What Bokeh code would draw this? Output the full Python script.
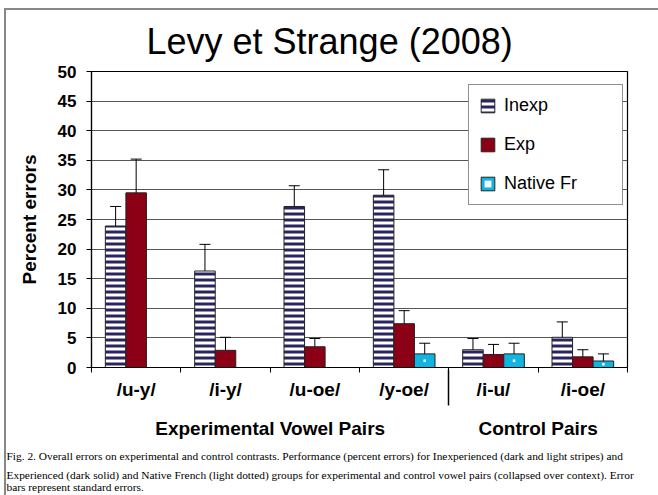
from bokeh.plotting import figure
from bokeh.models import (Range1d, LinearAxis, FixedTicker, Title,
                          ColumnDataSource, Whisker, TeeHead, Legend, LegendItem)
from bokeh.transform import dodge
from bokeh.embed import file_html
from bokeh.resources import INLINE

# ---------------- data ----------------
cats = ["/u-y/", "/i-y/", "/u-oe/", "/y-oe/", "/i-u/", "/i-oe/"]
inexp = [23.9, 16.3, 27.2, 29.1, 3.0, 5.1]
inexp_se = [3.3, 4.5, 3.5, 4.3, 1.9, 2.6]
exp = [29.5, 2.9, 3.5, 7.4, 2.2, 1.8]
exp_se = [5.7, 2.2, 1.4, 2.2, 1.7, 1.2]
native = [None, None, None, 2.3, 2.3, 1.1]
native_se = [None, None, None, 1.8, 1.8, 1.2]
y_ticks = [0, 5, 10, 15, 20, 25, 30, 35, 40, 45, 50]
group_names = ["Experimental Vowel Pairs", "Control Pairs"]
group_sizes = [4, 2]
title_text = "Levy et Strange (2008)"
caption_lines = [
    "Fig. 2.  Overall errors on experimental and control contrasts. Performance (percent errors) for Inexperienced (dark and light stripes) and",
    "Experienced (dark solid) and Native French (light dotted) groups for experimental and control vowel pairs (collapsed over context). Error",
    "bars represent standard errors.",
]

SANS = "Liberation Sans"
SERIF = "Liberation Serif"

n = len(cats)
centers = [i + 0.5 for i in range(n)]
bounds = list(range(n + 1))
group_centers, divider = [], []
start = 0
for gs in group_sizes:
    group_centers.append(start + gs / 2)
    start += gs
    divider.append(start)
divider = divider[:-1]

p = figure(width=658, height=495, output_backend="svg", toolbar_location=None,
           x_range=Range1d(0, n), y_range=Range1d(0, 50), x_axis_location=None,
           min_border_left=91, min_border_right=31, min_border_top=71, min_border_bottom=128)
p.border_fill_alpha = 0
p.background_fill_color = "white"
p.styles = {"background": "linear-gradient(#888888,#888888) 4px 8px / 100% 2px no-repeat, "
                          "linear-gradient(#888888,#888888) 4px 8px / 2px 100% no-repeat"}
p.outline_line_color = "black"
p.outline_line_width = 1.2
p.xgrid.grid_line_color = None
p.ygrid.ticker = FixedTicker(ticks=y_ticks)
p.ygrid.grid_line_color = "#555555"
p.ygrid.grid_line_width = 1

p.title = Title(text=title_text, align="left", offset=55, standoff=20,
                text_font=SANS, text_font_size="36px", text_font_style="normal",
                text_color="black")

# y axis
ya = p.yaxis[0]
ya.ticker = FixedTicker(ticks=y_ticks)
ya.axis_label = "Percent errors"
ya.axis_label_text_font = SANS
ya.axis_label_text_font_style = "bold"
ya.axis_label_text_font_size = "19px"
ya.axis_label_text_color = "black"
ya.axis_label_standoff = 15
ya.major_label_text_font = SANS
ya.major_label_text_font_style = "bold"
ya.major_label_text_font_size = "17px"
ya.major_label_text_color = "black"
ya.major_label_standoff = 10
ya.major_tick_out = 5
ya.major_tick_in = 0
ya.minor_tick_line_color = None
ya.axis_line_color = "black"
ya.axis_line_width = 1.2

# x axis: category labels at centers, tick marks at boundaries
cat_axis = LinearAxis(ticker=FixedTicker(ticks=centers, minor_ticks=bounds),
                      major_label_overrides={c: lab for c, lab in zip(centers, cats)},
                      axis_line_color="black", axis_line_width=1.2,
                      major_tick_line_color=None, major_tick_out=5, major_tick_in=0,
                      minor_tick_line_color="black", minor_tick_out=5, minor_tick_in=0,
                      major_label_text_font=SANS, major_label_text_font_style="bold",
                      major_label_text_font_size="19px", major_label_text_color="black",
                      major_label_standoff=6)
p.add_layout(cat_axis, "below")

# group labels + divider tick
grp_axis = LinearAxis(ticker=FixedTicker(ticks=group_centers, minor_ticks=divider),
                      major_label_overrides={c: lab for c, lab in zip(group_centers, group_names)},
                      axis_line_color=None, major_tick_line_color=None,
                      major_tick_out=0, major_tick_in=0,
                      minor_tick_line_color="black", minor_tick_line_width=1.5,
                      minor_tick_in=33, minor_tick_out=3,
                      major_label_text_font=SANS, major_label_text_font_style="bold",
                      major_label_text_font_size="19px", major_label_text_color="black",
                      major_label_standoff=12)
p.add_layout(grp_axis, "below")

for i, line in enumerate(caption_lines):
    p.add_layout(Title(text=line, align="left", offset=-85, standoff=12 if i == 0 else -2,
                       text_font=SERIF, text_font_size="11.4px", text_font_style="normal",
                       text_color="black"), "below")

W = 0.23
def series(vals, se):
    xs, tops, ups, mids = [], [], [], []
    for c, v, s in zip(centers, vals, se):
        if v is None:
            continue
        xs.append(c); tops.append(v); ups.append(v + s); mids.append(v / 2)
    return ColumnDataSource(dict(x=xs, top=tops, upper=ups, mid=mids))

s_in = series(inexp, inexp_se)
s_ex = series(exp, exp_se)
s_na = series(native, native_se)

r_in = p.vbar(x=dodge("x", -W), top="top", width=W, source=s_in,
              fill_color="white", line_color="#222222", line_width=1,
              hatch_pattern="horizontal_line", hatch_color="#29235f", hatch_scale=6, hatch_weight=3)
r_ex = p.vbar(x=dodge("x", 0), top="top", width=W, source=s_ex,
              fill_color="#8c0015", line_color="#222222", line_width=1)
r_na = p.vbar(x=dodge("x", W), top="top", width=W, source=s_na,
              fill_color="#12b4e0", line_color="#222222", line_width=1)
r_dot = p.scatter(x=dodge("x", W), y="mid", source=s_na, marker="square", size=2.5,
                  fill_color="white", line_color=None)

for src, off in ((s_in, -W), (s_ex, 0), (s_na, W)):
    p.add_layout(Whisker(base=dodge("x", off), lower="top", upper="upper",
                         source=src, line_color="black", line_width=1, level="overlay",
                         upper_head=TeeHead(size=11, line_color="black", line_width=1),
                         lower_head=None))

legend = Legend(items=[LegendItem(label="Inexp", renderers=[r_in]),
                       LegendItem(label="Exp", renderers=[r_ex]),
                       LegendItem(label="Native Fr", renderers=[r_na, r_dot])],
                location=(377, 162), glyph_width=17, glyph_height=17, label_height=17,
                label_width=108, spacing=18, padding=10, margin=0, label_standoff=8,
                label_text_font=SANS, label_text_font_size="18px", label_text_color="black",
                border_line_color="#222222", border_line_width=1.5,
                background_fill_color="white", background_fill_alpha=1)
p.add_layout(legend, "center")

open("out.html", "w").write(file_html(p, INLINE))
